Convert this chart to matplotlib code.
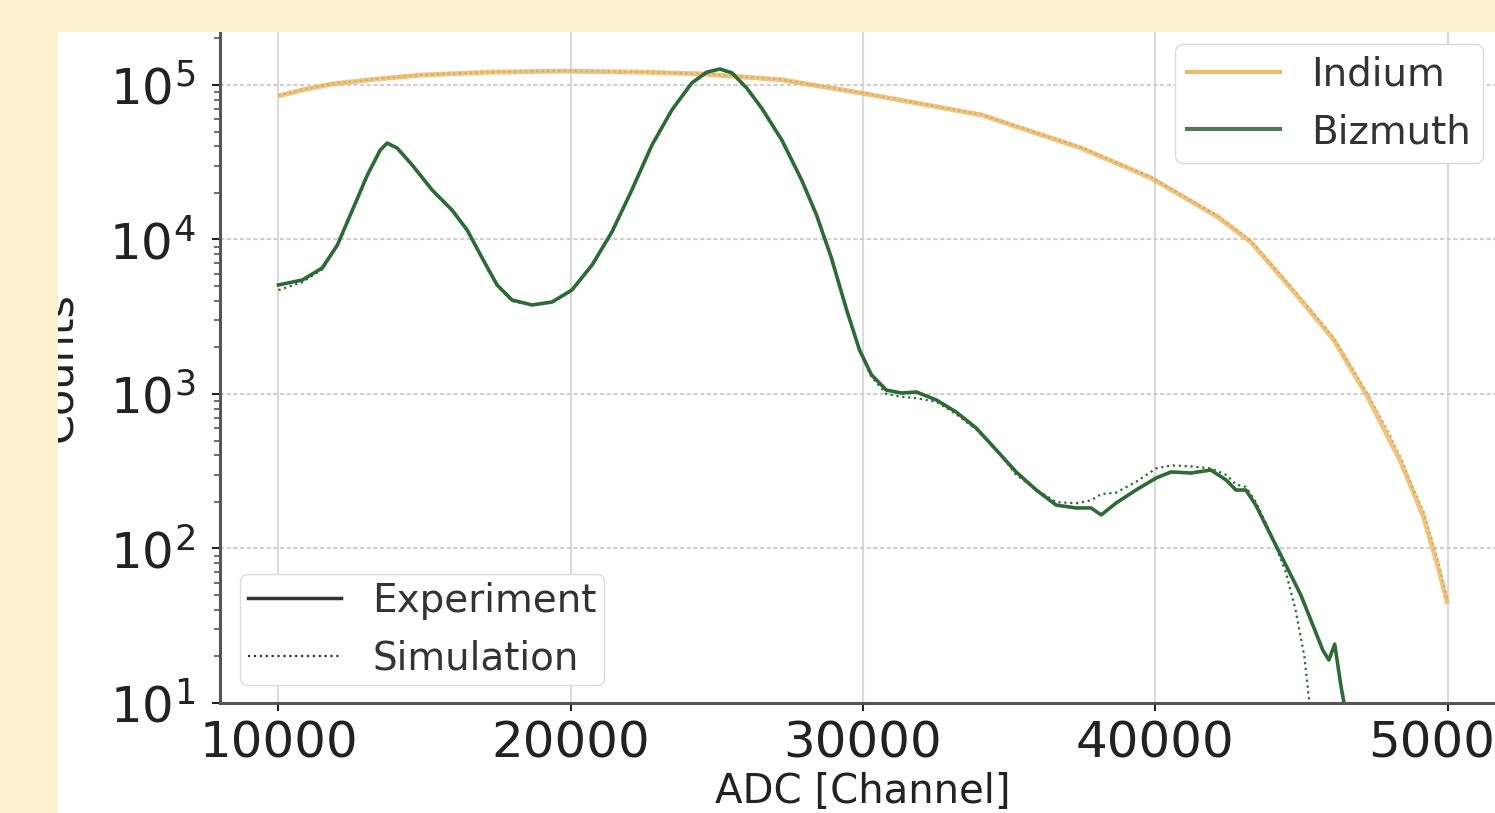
import matplotlib.pyplot as plt
from matplotlib.patches import Rectangle
from matplotlib.lines import Line2D

# Bizmuth, experiment
bi_exp_x = [10000, 10820, 11500, 12015, 12530, 13040, 13480, 13720, 14060, 14580,
            15260, 15940, 16460, 16970, 17480, 17990, 18680, 19360, 20040, 20730,
            21410, 22090, 22780, 23460, 24140, 24650, 25100, 25510, 26020, 26530,
            27220, 27900, 28410, 28920, 29440, 29880, 30290, 30800, 31310, 31830,
            32510, 33190, 33870, 34560, 35240, 35930, 36610, 37290, 37800, 38150,
            38660, 39340, 40030, 40540, 41220, 41900, 42420, 42760, 43100, 43440,
            43950, 44470, 44980, 45390, 45730, 45940, 46140, 46350, 46500]
bi_exp_y = [5080, 5470, 6550, 9200, 15500, 26100, 37900, 42100, 39100, 30300,
            20900, 15500, 11500, 7590, 5080, 4060, 3770, 3940, 4710, 6840,
            11200, 20900, 40900, 68900, 103000, 121000, 127000, 120000, 95700, 71000,
            44100, 24300, 14400, 7590, 3500, 1930, 1330, 1060, 1015, 1030,
            915, 764, 603, 434, 313, 239, 191, 183, 183, 165,
            197, 239, 286, 313, 308, 322, 278, 239, 239, 191,
            122, 78, 50, 32, 22, 19, 24, 13, 9]

# Bizmuth, simulation
bi_sim_x = [10000, 10820, 11500, 12015, 12530, 13040, 13480, 13720, 14060, 14580,
            15260, 15940, 16460, 16970, 17480, 17990, 18680, 19360, 20040, 20730,
            21410, 22090, 22780, 23460, 24140, 24650, 25100, 25510, 26020, 26530,
            27220, 27900, 28410, 28920, 29440, 29880, 30290, 30800, 31310, 31830,
            32510, 33190, 33870, 34560, 35240, 35930, 36610, 37290, 37800, 38150,
            38660, 39340, 40030, 40540, 41220, 41900, 42420, 42760, 43100, 43440,
            43950, 44470, 44800, 45100, 45300]
bi_sim_y = [4700, 5300, 6400, 9100, 15300, 25800, 37500, 41500, 38800, 30000,
            20600, 15300, 11300, 7500, 5000, 4000, 3750, 3900, 4650, 6750,
            11000, 20600, 40500, 68000, 102000, 120000, 126000, 119000, 95000, 70500,
            43500, 24000, 14200, 7500, 3450, 1900, 1290, 1000, 960, 940,
            890, 740, 590, 440, 300, 240, 200, 196, 205, 225,
            230, 270, 330, 345, 340, 330, 300, 260, 250, 200,
            125, 70, 40, 20, 9]

# Indium, experiment
in_exp_x = [10000, 10820, 11840, 13310, 14920, 17240, 19700, 22470, 24480, 27220,
            29950, 34050, 37460, 39860, 42140, 43270, 44400, 45320, 46110, 47270,
            48400, 49180, 49660, 50000]
in_exp_y = [84900, 92900, 101500, 109000, 116000, 121000, 123000, 121000, 118000, 108000,
            88700, 64000, 39100, 25000, 14000, 9630, 5470, 3400, 2240, 957,
            363, 160, 78, 44]

# Indium, simulation
in_sim_x = [10000, 10820, 11840, 13310, 14920, 17240, 19700, 22470, 24480, 27220,
            29950, 34050, 37460, 39860, 42140, 43270, 44400, 45320, 46110, 47270,
            48000, 48400, 48800, 49180, 49660, 50000]
in_sim_y = [85500, 93500, 102000, 109500, 116500, 121500, 123500, 121500, 118500, 108500,
            89000, 64500, 39500, 25300, 14200, 9800, 5600, 3500, 2300, 1000,
            560, 390, 250, 175, 85, 46]

x_ticks = [10000, 20000, 30000, 40000, 50000]

W, H = 1495, 813
BEIGE = '#fef1cd'
IN_COLOR = '#e9bb6c'
BI_COLOR = '#2e6a36'

fig = plt.figure(figsize=(W / 100, H / 100), dpi=100, facecolor='white')
ax = fig.add_axes([220 / W, (H - 703) / H, (1506 - 220) / W, (703 - 32) / H])

ax.set_yscale('log')
ax.set_xlim(8000, 52000)
ax.set_ylim(10, 10 ** 5.343)

# grid
ax.grid(True, axis='x', color='#dadada', lw=1.5, ls='-')
ax.grid(True, axis='y', which='major', color='#cfcfcf', lw=1.5, ls=(0, (2, 1.2)))
ax.set_axisbelow(True)

ax.plot(in_exp_x, in_exp_y, color=IN_COLOR, lw=3.5, alpha=0.85, solid_capstyle='butt')
ax.plot(in_sim_x, in_sim_y, color='#d9a24a', lw=1.5, ls=':', alpha=0.8)
ax.plot(bi_exp_x, bi_exp_y, color=BI_COLOR, lw=2.6)
ax.plot(bi_sim_x, bi_sim_y, color=BI_COLOR, lw=1.6, ls=':')

ax.set_xticks(x_ticks)
ax.set_xticklabels([str(t) for t in x_ticks])
ax.tick_params(axis='both', which='major', labelsize=36, colors='#222222',
               length=6, width=1.5)
ax.tick_params(axis='y', which='minor', length=4, width=1.2, colors='#555555')
ax.tick_params(axis='x', pad=6)
ax.tick_params(axis='y', pad=12)

for s in ['top', 'right']:
    ax.spines[s].set_visible(False)
for s in ['left', 'bottom']:
    ax.spines[s].set_color('#555555')
    ax.spines[s].set_linewidth(2.2)

ax.set_xlabel('ADC [Channel]', fontsize=29, color='#222222', labelpad=3)
ax.set_ylabel('Counts', fontsize=31, color='#222222')
ax.yaxis.set_label_coords(-0.108, 0.5)

# element legend
elem_handles = [Line2D([0], [0], color=IN_COLOR, lw=3),
                Line2D([0], [0], color='#4f7a58', lw=3)]
leg1 = ax.legend(elem_handles, ['Indium', 'Bizmuth'], loc='upper right',
                 bbox_to_anchor=(1483 / W, 1 - 44 / H), bbox_transform=fig.transFigure,
                 borderaxespad=0, fontsize=28, frameon=True, framealpha=1,
                 edgecolor='#dcdcdc', handlelength=2.4, labelcolor='#333333',
                 borderpad=0.3)
ax.add_artist(leg1)

style_handles = [Line2D([0], [0], color='#333333', lw=2.5),
                 Line2D([0], [0], color='#333333', lw=1.6, ls=':')]
ax.legend(style_handles, ['Experiment', 'Simulation'], loc='lower left',
          bbox_to_anchor=(240 / W, (H - 685) / H), bbox_transform=fig.transFigure,
          borderaxespad=0, fontsize=28, frameon=True, framealpha=1,
          edgecolor='#dcdcdc', handlelength=2.4, labelcolor='#333333',
          borderpad=0.2)

# slide background around the cropped figure
fig.patches.append(Rectangle((0, 0), 58 / W, 1, transform=fig.transFigure,
                             facecolor=BEIGE, edgecolor='none', zorder=10))
fig.patches.append(Rectangle((0, 1 - 32 / H), 1, 32 / H, transform=fig.transFigure,
                             facecolor=BEIGE, edgecolor='none', zorder=10))

fig.savefig('out.png', dpi=100, facecolor=fig.get_facecolor())
